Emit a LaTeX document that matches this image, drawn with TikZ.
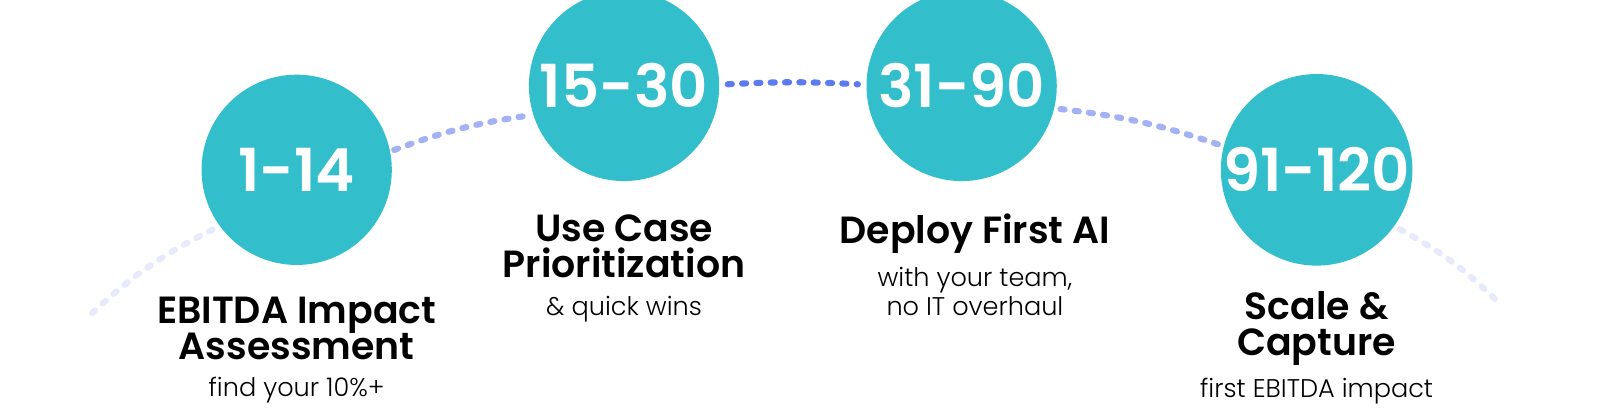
\documentclass[tikz,border=0pt]{standalone}
\usepackage{fontspec}
\setmainfont{Poppins}[BoldFont=* SemiBold]
\newfontfamily\thinfont{Poppins}[UprightFont=* Light]
\definecolor{teal}{HTML}{33BECC}
\definecolor{dotdark}{HTML}{5B7BEE}
\definecolor{dotlight}{HTML}{A3B1F5}
\definecolor{dotfaint}{HTML}{E6EAFC}
\tikzset{
  stage/.style={circle, fill=teal, minimum size=93pt, inner sep=0pt, text=white,
    font=\bfseries\fontsize{29}{30}\selectfont},
  title/.style={align=center, font=\bfseries\fontsize{18.5}{18.5}\selectfont},
  note/.style={align=center, font=\thinfont\fontsize{12.5}{14.5}\selectfont},
  trail/.style={line width=3pt, line cap=round, dash pattern=on 2pt off 5pt}
}
\begin{document}
\begin{tikzpicture}[x=0.5pt, y=0.5pt]
    \node[stage] (d1) at (290,241) {1-14};
    \node[stage] (d2) at (610,323) {15-30};
    \node[stage] (d3) at (940,323) {31-90};
    \node[stage] (d4) at (1287,241) {91-120};

    \coordinate (left) at (90,101);
    \coordinate (right) at (1465,111);

    % dotted arc through the stages
    \draw[trail, dotfaint] (left) to[bend left=8] ([shift={(-4,-4)}]d1.215);
    \draw[trail, dotlight] ([shift={(4,0)}]d1.12) to[bend left=6] ([shift={(-4,0)}]d2.198);
    \draw[trail, dotdark] ([shift={(8,0)}]d2.1) to[bend left=3] ([shift={(-8,0)}]d3.179);
    \draw[trail, dotlight] ([shift={(6,0)}]d3.-14) to[bend left=6] ([shift={(-4,0)}]d4.165);
    \draw[trail, dotfaint] ([shift={(4,-4)}]d4.-35) to[bend left=8] (right);

    \node[title] (t1) at (290,86) {EBITDA Impact\\[-1pt]Assessment};
    \node[note] (n1) at (290,26) {find your 10\%+};
    \node[title] (t2) at (610,166) {Use Case\\[-1pt]Prioritization};
    \node[note] (n2) at (610,105) {\& quick wins};
    \node[title] (t3) at (953,179) {Deploy First AI};
    \node[note] (n3) at (953,122) {with your team,\\no IT overhaul};
    \node[title] (t4) at (1287,86) {Scale \&\\[-1pt]Capture};
    \node[note] (n4) at (1287,25) {first EBITDA impact};

    \pgfresetboundingbox
    \useasboundingbox (0,0) rectangle (1564,407);
\end{tikzpicture}
\end{document}
